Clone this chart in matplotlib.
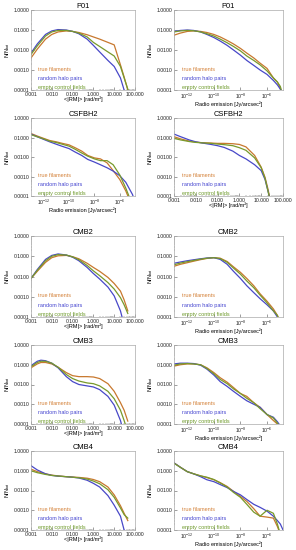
import matplotlib
matplotlib.use("Agg")
import matplotlib.pyplot as plt
from matplotlib.ticker import FixedLocator, NullFormatter

# ---- data ----
# radio emission grid, Jy/arcsec^2
radio_x = [1e-13, 3e-13, 1e-12, 3e-12, 1e-11, 3e-11, 1e-10, 3e-10, 1e-9, 3e-9,
           1e-8, 3e-8, 1e-7, 3e-7, 1e-6, 3e-6, 6e-6, 1e-5, 1.6e-5]

p01_rm_x = [0.001, 0.002, 0.005, 0.01, 0.02, 0.05, 0.1, 0.2, 0.5, 1, 2, 5, 10, 20, 30, 48]
p01_rm_true = [0.004, 0.011, 0.035, 0.06, 0.08, 0.09, 0.085, 0.075, 0.058, 0.045, 0.035, 0.024, 0.018, 0.0018, 0.00045, 0.00008]
p01_rm_rand = [0.007, 0.02, 0.06, 0.09, 0.105, 0.1, 0.085, 0.065, 0.035, 0.017, 0.008, 0.003, 0.0015, 0.0004, 0.0001, 0.00001]
p01_rm_empty = [0.006, 0.016, 0.05, 0.08, 0.095, 0.095, 0.085, 0.07, 0.045, 0.024, 0.015, 0.008, 0.005, 0.0015, 0.0004, 0.00009]

p01_radio_true = [0.055, 0.07, 0.085, 0.09, 0.085, 0.075, 0.06, 0.045, 0.03, 0.02, 0.012, 0.007, 0.004, 0.0022, 0.0012, 0.0004, 0.00025, 0.00012, 0.00003]
p01_radio_rand = [0.085, 0.095, 0.1, 0.095, 0.08, 0.06, 0.042, 0.028, 0.017, 0.01, 0.0055, 0.003, 0.0017, 0.001, 0.0006, 0.0003, 0.00018, 0.00011, 0.00004]
p01_radio_empty = [0.08, 0.09, 0.095, 0.092, 0.08, 0.065, 0.05, 0.035, 0.023, 0.015, 0.009, 0.005, 0.003, 0.0018, 0.0009, 0.0004, 0.00025, 0.00015, 0.00005]

csf_radio_true = [0.16, 0.12, 0.09, 0.07, 0.06, 0.05, 0.042, 0.03, 0.02, 0.012, 0.009, 0.008, 0.005, 0.002, 0.0007, 0.00018, 0.00006, 0.00003, 0.00001]
csf_radio_rand = [0.15, 0.11, 0.08, 0.06, 0.045, 0.035, 0.027, 0.018, 0.012, 0.0075, 0.0055, 0.004, 0.0028, 0.0019, 0.0011, 0.0005, 0.00022, 0.00012, 0.00005]
csf_radio_empty = [0.14, 0.11, 0.085, 0.065, 0.055, 0.045, 0.036, 0.025, 0.016, 0.011, 0.008, 0.0065, 0.0065, 0.004, 0.0012, 0.00025, 0.00008, 0.00003, 0.00001]

csf_rm_x = [0.001, 0.002, 0.005, 0.01, 0.02, 0.05, 0.1, 0.2, 0.5, 1, 2, 5, 10, 15, 20, 25]
csf_rm_true = [0.11, 0.085, 0.065, 0.058, 0.054, 0.052, 0.05, 0.05, 0.048, 0.044, 0.033, 0.012, 0.003, 0.0009, 0.00025, 0.00008]
csf_rm_rand = [0.15, 0.11, 0.075, 0.06, 0.052, 0.044, 0.038, 0.031, 0.02, 0.012, 0.008, 0.004, 0.002, 0.0007, 0.0002, 0.00007]
csf_rm_empty = [0.09, 0.075, 0.062, 0.056, 0.053, 0.05, 0.046, 0.043, 0.038, 0.03, 0.022, 0.009, 0.0028, 0.0008, 0.0002, 0.00007]

cmb2_rm_x = [0.001, 0.002, 0.005, 0.01, 0.02, 0.05, 0.1, 0.2, 0.5, 1, 2, 5, 10, 20, 30, 45]
cmb2_rm_true = [0.008, 0.018, 0.05, 0.085, 0.105, 0.11, 0.095, 0.075, 0.045, 0.028, 0.018, 0.009, 0.0045, 0.0019, 0.0007, 0.0002]
cmb2_rm_rand = [0.008, 0.022, 0.07, 0.11, 0.13, 0.115, 0.09, 0.06, 0.028, 0.014, 0.0075, 0.003, 0.0011, 0.0002, 0.00004, 0.00001]
cmb2_rm_empty = [0.008, 0.02, 0.06, 0.1, 0.12, 0.115, 0.093, 0.068, 0.035, 0.019, 0.011, 0.005, 0.0024, 0.0009, 0.0004, 0.00015]

cmb2_radio_true = [0.032, 0.04, 0.048, 0.057, 0.068, 0.078, 0.085, 0.08, 0.055, 0.03, 0.016, 0.008, 0.0035, 0.0014, 0.0006, 0.00025, 0.00012, 0.00005, 0.00002]
cmb2_radio_rand = [0.045, 0.052, 0.06, 0.067, 0.075, 0.082, 0.085, 0.07, 0.04, 0.018, 0.008, 0.0035, 0.0016, 0.0008, 0.0004, 0.0002, 0.0001, 0.00005, 0.00002]
cmb2_radio_empty = [0.038, 0.046, 0.054, 0.062, 0.072, 0.08, 0.085, 0.077, 0.05, 0.026, 0.013, 0.006, 0.0028, 0.0012, 0.0005, 0.0002, 0.00012, 0.00005, 0.00002]

cmb3_rm_x = [0.001, 0.002, 0.003, 0.005, 0.01, 0.02, 0.05, 0.1, 0.2, 0.5, 1, 2, 5, 10, 20, 30, 45]
cmb3_rm_true = [0.07, 0.11, 0.13, 0.13, 0.11, 0.075, 0.04, 0.028, 0.025, 0.025, 0.024, 0.02, 0.011, 0.0045, 0.0012, 0.0005, 0.00014]
cmb3_rm_rand = [0.09, 0.15, 0.17, 0.16, 0.12, 0.07, 0.025, 0.014, 0.01, 0.0085, 0.0075, 0.0055, 0.0025, 0.0009, 0.00015, 0.00003, 0.00001]
cmb3_rm_empty = [0.08, 0.13, 0.15, 0.15, 0.12, 0.075, 0.032, 0.02, 0.015, 0.012, 0.011, 0.0085, 0.0045, 0.0019, 0.0005, 0.00015, 0.00004]

cmb3_radio_true = [0.085, 0.1, 0.11, 0.11, 0.1, 0.07, 0.04, 0.022, 0.013, 0.007, 0.0035, 0.0025, 0.0012, 0.0007, 0.0003, 0.00015, 0.0001, 0.00007, 0.00003]
cmb3_radio_rand = [0.11, 0.12, 0.12, 0.115, 0.095, 0.06, 0.03, 0.014, 0.008, 0.0045, 0.0025, 0.0015, 0.001, 0.0007, 0.0003, 0.00022, 0.00013, 0.00008, 0.00003]
cmb3_radio_empty = [0.095, 0.11, 0.115, 0.11, 0.1, 0.065, 0.035, 0.018, 0.011, 0.006, 0.0035, 0.002, 0.0012, 0.0006, 0.0003, 0.0002, 0.00011, 0.00007, 0.00003]

cmb4_rm_x = [0.001, 0.002, 0.005, 0.01, 0.02, 0.05, 0.1, 0.2, 0.5, 1, 2, 5, 10, 20, 30, 45]
cmb4_rm_true = [0.12, 0.09, 0.07, 0.06, 0.055, 0.05, 0.048, 0.046, 0.042, 0.036, 0.028, 0.015, 0.006, 0.0017, 0.0007, 0.0003]
cmb4_rm_rand = [0.18, 0.11, 0.07, 0.058, 0.053, 0.05, 0.047, 0.043, 0.033, 0.023, 0.015, 0.0055, 0.0018, 0.0005, 0.0001, 0.00002]
cmb4_rm_empty = [0.1, 0.08, 0.065, 0.058, 0.054, 0.05, 0.047, 0.044, 0.038, 0.03, 0.022, 0.011, 0.0045, 0.0013, 0.0006, 0.0004]

cmb4_radio_true = [0.25, 0.15, 0.09, 0.07, 0.055, 0.045, 0.035, 0.025, 0.016, 0.009, 0.005, 0.0028, 0.0012, 0.0005, 0.00045, 0.0004, 0.00015, 0.00006, 0.00002]
cmb4_radio_rand = [0.25, 0.15, 0.09, 0.07, 0.05, 0.035, 0.028, 0.02, 0.014, 0.009, 0.006, 0.0035, 0.002, 0.0014, 0.0009, 0.0005, 0.0003, 0.0002, 0.0001]
cmb4_radio_empty = [0.24, 0.15, 0.09, 0.07, 0.055, 0.047, 0.036, 0.024, 0.015, 0.008, 0.0045, 0.002, 0.0008, 0.0005, 0.001, 0.0007, 0.0002, 0.00006, 0.00002]

labels = ["true filaments", "random halo pairs", "empty control fields"]
colors = ["#c8782e", "#4848c8", "#789a2c"]
text_colors = ["#d4823a", "#4646d0", "#6e9a2a"]

# ---- layout: one entry per panel (title, kind, x, three series, row, col) ----
panels = [
    ("P01", "rm", p01_rm_x, [p01_rm_true, p01_rm_rand, p01_rm_empty], 0, 0),
    ("P01", "radio", radio_x, [p01_radio_true, p01_radio_rand, p01_radio_empty], 0, 1),
    ("CSFBH2", "radio", radio_x, [csf_radio_true, csf_radio_rand, csf_radio_empty], 1, 0),
    ("CSFBH2", "rm", csf_rm_x, [csf_rm_true, csf_rm_rand, csf_rm_empty], 1, 1),
    ("CMB2", "rm", cmb2_rm_x, [cmb2_rm_true, cmb2_rm_rand, cmb2_rm_empty], 2, 0),
    ("CMB2", "radio", radio_x, [cmb2_radio_true, cmb2_radio_rand, cmb2_radio_empty], 2, 1),
    ("CMB3", "rm", cmb3_rm_x, [cmb3_rm_true, cmb3_rm_rand, cmb3_rm_empty], 3, 0),
    ("CMB3", "radio", radio_x, [cmb3_radio_true, cmb3_radio_rand, cmb3_radio_empty], 3, 1),
    ("CMB4", "rm", cmb4_rm_x, [cmb4_rm_true, cmb4_rm_rand, cmb4_rm_empty], 4, 0),
    ("CMB4", "radio", radio_x, [cmb4_radio_true, cmb4_radio_rand, cmb4_radio_empty], 4, 1),
]

W, H = 296, 550
row_px = [(10, 90), (118, 196), (236, 317), (345, 424), (451, 530)]
col_px = [(31, 135), (174, 283)]

plt.rcParams['font.family'] = ['Liberation Sans', 'DejaVu Sans']
fig = plt.figure(figsize=(W / 100, H / 100), dpi=100)
fig.patch.set_facecolor("white")

for title, kind, x, series, r, c in panels:
    top, bot = row_px[r]
    lft, rgt = col_px[c]
    ax = fig.add_axes([lft / W, 1 - bot / H, (rgt - lft) / W, (bot - top) / H])
    for y, col in zip(series, colors):
        ax.plot(x, y, color=col, lw=0.9)
    ax.set_xscale("log")
    ax.set_yscale("log")
    ax.set_ylim(1e-4, 1.0)
    ax.yaxis.set_major_locator(FixedLocator([1e-4, 1e-3, 1e-2, 1e-1, 1.0]))
    ax.set_yticklabels(["0.0001", "0.0010", "0.0100", "0.1000", "1.0000"])
    ax.yaxis.set_minor_formatter(NullFormatter())
    if kind == "rm":
        ax.set_xlim(1e-3, 100)
        ax.xaxis.set_major_locator(FixedLocator([1e-3, 1e-2, 1e-1, 1, 10, 100]))
        ax.set_xticklabels(["0.001", "0.010", "0.100", "1.000", "10.000", "100.000"])
        ax.set_xlabel("<|RM|> [rad/m²]", fontsize=4.0, labelpad=0)
    else:
        ax.set_xlim(1e-13, 10 ** -4.8)
        ax.xaxis.set_major_locator(FixedLocator([1e-12, 1e-10, 1e-8, 1e-6]))
        ax.set_xticklabels([r"10$^{\mathregular{-12}}$", r"10$^{\mathregular{-10}}$",
                            r"10$^{\mathregular{-8}}$", r"10$^{\mathregular{-6}}$"])
        ax.set_xlabel("Radio emission [Jy/arcsec²]", fontsize=4.0, labelpad=0)
    ax.xaxis.set_minor_formatter(NullFormatter())
    ax.tick_params(which="both", direction="in", labelsize=3.7, pad=1.2,
                   colors="#555555", labelcolor="#222222")
    ax.tick_params(which="major", length=2, width=0.4)
    ax.tick_params(which="minor", length=1, width=0.3)
    for s in ax.spines.values():
        s.set_color("#aaaaaa")
        s.set_linewidth(0.5)
    ax.set_title(title, fontsize=5.4, pad=1.5)
    ax.set_ylabel(r"N/N$_{\mathregular{tot}}$", fontsize=4.0, labelpad=1)
    for i, (lab, tc) in enumerate(zip(labels, text_colors)):
        ax.text(0.07, 0.26 - 0.115 * i, lab, transform=ax.transAxes,
                color=tc, fontsize=4.0, va="center", ha="left")

fig.savefig("out.png", dpi=100, facecolor="white")
